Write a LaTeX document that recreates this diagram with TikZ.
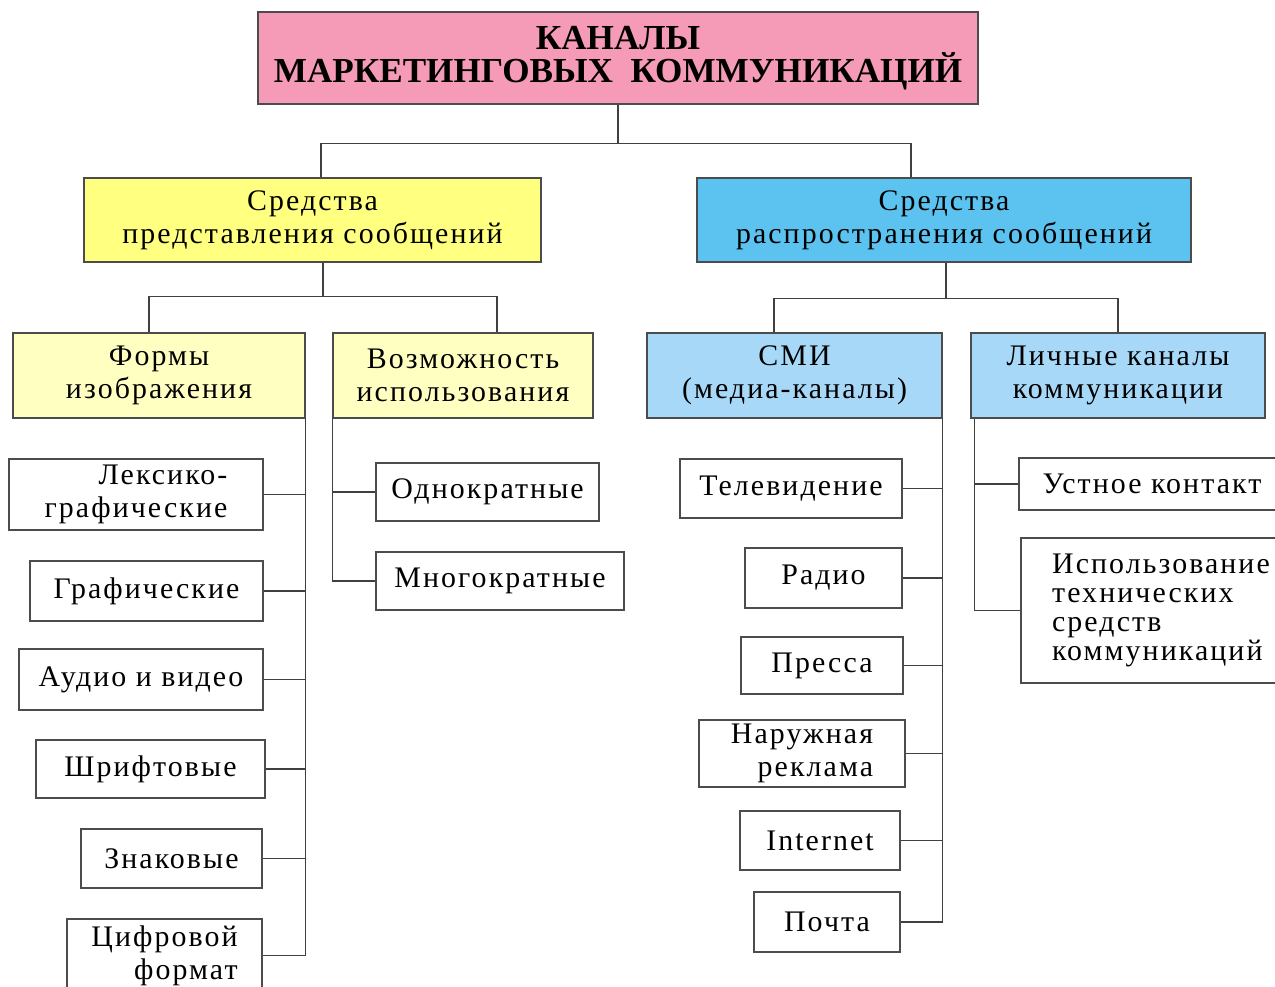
\documentclass[tikz,border=0pt]{standalone}
\usepackage{fontspec}
\setmainfont{Liberation Serif}[LetterSpace=7]
\newfontfamily\titlefont{Liberation Serif}
\definecolor{titlepink}{RGB}{246,155,183}
\definecolor{midyellow}{RGB}{255,255,128}
\definecolor{midblue}{RGB}{92,195,240}
\definecolor{lightyellow}{RGB}{255,255,194}
\definecolor{lightblue}{RGB}{168,216,248}
\tikzset{
  box/.style={draw=black!70, line width=0.7pt, inner sep=0pt, align=center,
    font=\fontsize{17}{19}\selectfont},
  wh/.style 2 args={minimum width=#1*0.02cm, minimum height=#2*0.02cm},
  link/.style={draw=black!75, line width=0.6pt},
}
\begin{document}
\begin{tikzpicture}[x=0.02cm, y=-0.02cm]
  \useasboundingbox (0,0) rectangle (1275,987);
  \node[box, fill=titlepink, wh={720}{92},
    font=\titlefont\bfseries\fontsize{20}{19}\selectfont] (title) at (618,58)
    {КАНАЛЫ\\МАРКЕТИНГОВЫХ\ \ КОММУНИКАЦИЙ};
  \node[box, fill=midyellow, wh={457}{84}] (pres) at (312.5,220)
    {Средства\\представления сообщений};
  \node[box, fill=midblue, wh={494}{84}] (dist) at (944,220)
    {Средства\\распространения сообщений};
  \node[box, fill=lightyellow, wh={292}{85}] (forms) at (159,375.5)
    {Формы\\изображения};
  \node[box, fill=lightyellow, wh={260}{85}] (usage) at (463,375.5)
    {Возможность\\использования};
  \node[box, fill=lightblue, wh={295}{85}] (smi) at (794.5,375.5)
    {СМИ\\(медиа-каналы)};
  \node[box, fill=lightblue, wh={294}{85}] (pers) at (1118,375.5)
    {Личные каналы\\коммуникации};
  % forms of presentation
  \node[box, align=right, wh={254}{71}] (lex) at (136,494.5)
    {Лексико-\\графические};
  \node[box, wh={233}{60}] (graph) at (146.5,591) {Графические};
  \node[box, wh={244}{61}] (aud) at (141,679.5) {Аудио и видео};
  \node[box, wh={229}{58}] (type) at (150.5,769) {Шрифтовые};
  \node[box, wh={181}{59}] (sign) at (171.5,858.5) {Знаковые};
  \node[box, align=right, wh={195}{73}] (dig) at (164.5,955.5)
    {Цифровой\\формат};
  % usage
  \node[box, wh={223}{58}] (once) at (487.5,492) {Однократные};
  \node[box, wh={248}{58}] (multi) at (500,581) {Многократные};
  % media
  \node[box, wh={222}{59}] (tv) at (791,488.5) {Телевидение};
  \node[box, wh={157}{60}] (radio) at (823.5,578) {Радио};
  \node[box, wh={162}{57}] (press) at (822,665.5) {Пресса};
  \node[box, align=right, wh={206}{67}] (out) at (802,753.5)
    {Наружная\\реклама};
  \node[box, wh={160}{59}] (inet) at (820,840.5) {Internet};
  \node[box, wh={146}{60}] (mail) at (827,922) {Почта};
  % personal channels
  \node[box, wh={266}{52}] (oral) at (1152,484) {Устное контакт};
  \node[box, align=left, wh={280}{145}, font=\fontsize{17}{16.5}\selectfont]
    (tech) at (1161,610.5)
    {Использование\\технических\\средств\\коммуникаций};

  \draw[link] (title.south) -- ++(0,39) coordinate (top);
  \draw[link] ([xshift=0.17cm]pres.north) |- (top) -| ([xshift=-0.66cm]dist.north);
  \draw[link] ([xshift=0.21cm]pres.south) -- ++(0,34) coordinate (mid1);
  \draw[link] ([xshift=-0.2cm]forms.north) |- (mid1) -| ([xshift=0.68cm]usage.north);
  \draw[link] ([xshift=0.04cm]dist.south) -- ++(0,36) coordinate (mid2);
  \draw[link] ([xshift=-0.41cm]smi.north) |- (mid2) -| (pers.north);
  \foreach \n in {lex,graph,aud,type,sign,dig}
    \draw[link] (forms.south east) |- (\n.east);
  \foreach \n in {once,multi}
    \draw[link] (usage.south west) |- (\n.west);
  \foreach \n in {tv,radio,press,out,inet,mail}
    \draw[link] (smi.south east) |- (\n.east);
  \foreach \n in {oral,tech}
    \draw[link] ([xshift=0.08cm]pers.south west) |- (\n.west);
\end{tikzpicture}
\end{document}
